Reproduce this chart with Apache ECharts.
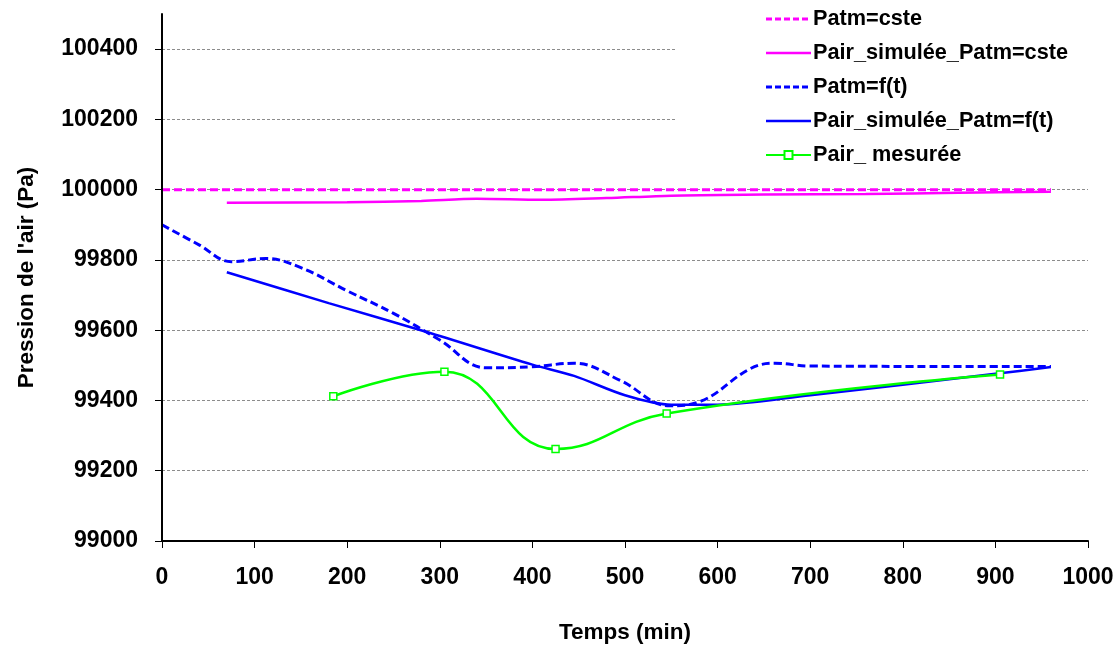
<!DOCTYPE html>
<html>
<head>
<meta charset="utf-8">
<script src="https://cdn.jsdelivr.net/npm/echarts@6/dist/echarts.min.js"></script>
<style>
html,body{margin:0;padding:0;background:#fff;}
#chart{width:1117px;height:646px;}
</style>
</head>
<body>
<div id="chart"></div>
<script>
// ---- data ----
var seriesNames = ['Patm=cste', 'Pair_simulée_Patm=cste', 'Patm=f(t)', 'Pair_simulée_Patm=f(t)', 'Pair_ mesurée'];
var patmCste = [[0, 100000], [960, 100000]];
var pairSimCste = [[70, 99963], [200, 99964], [280, 99968], [340, 99974], [410, 99971], [480, 99976], [550, 99983], [650, 99986], [760, 99988], [860, 99991], [960, 99994]];
var patmFt = [[0, 99900], [40, 99843], [75, 99795], [112, 99804], [150, 99778], [200, 99712], [250, 99648], [300, 99572], [350, 99493], [400, 99496], [445, 99506], [495, 99457], [548, 99385], [582, 99398], [635, 99490], [662, 99506], [700, 99498], [830, 99497], [960, 99497]];
var pairSimFt = [[70, 99765], [180, 99677], [286, 99595], [400, 99502], [445, 99470], [500, 99415], [550, 99388], [600, 99388], [700, 99415], [800, 99445], [900, 99476], [960, 99495]];
var pairMesuree = [[185, 99412], [305, 99482], [425, 99262], [545, 99363], [905, 99474]];
var xTicks = {min: 0, max: 1000, interval: 100};
var yTicks = {min: 99000, max: 100400, interval: 200};
var yAxisTop = 100500;

var FONT = 'Liberation Sans';
var chart = echarts.init(document.getElementById('chart'));

var gridLeft = 162, gridRight = 29, gridBottom = 105, gridTop = 14;
var plotH = 646 - gridTop - gridBottom;
var grid1Top = gridTop + plotH * (yAxisTop - yTicks.max) / (yAxisTop - yTicks.min);

var labelStyle = {fontFamily: FONT, fontWeight: 'bold', fontSize: 23, color: '#000', formatter: function (v) { return String(v); }};

// legend icons (45 x 10 box; tiny corner dots fix the bounding box)
var corners = 'M0,0h0.01v0.01h-0.01z M44.99,9.99h0.01v0.01h-0.01z ';
var dashIcon = 'path://' + corners + 'M0,3.6h6v2.8h-6z M9,3.6h6v2.8h-6z M18,3.6h6v2.8h-6z M27,3.6h6v2.8h-6z M36,3.6h6v2.8h-6z';
var solidIcon = 'path://' + corners + 'M0,3.7h45v2.6h-45z';

chart.setOption({
  animation: false,
  backgroundColor: '#fff',
  grid: [
    {left: gridLeft, right: gridRight, top: gridTop, bottom: gridBottom, outerBoundsMode: 'none', containLabel: false},
    {left: gridLeft, right: gridRight, top: grid1Top, bottom: gridBottom, outerBoundsMode: 'none', containLabel: false}
  ],
  legend: {
    data: [
      {name: seriesNames[0], icon: dashIcon},
      {name: seriesNames[1], icon: solidIcon},
      {name: seriesNames[2], icon: dashIcon},
      {name: seriesNames[3], icon: solidIcon},
      {name: seriesNames[4]}
    ],
    orient: 'vertical',
    left: 675,
    top: 0,
    padding: [8, 30, 12, 90],
    backgroundColor: '#fff',
    itemWidth: 45,
    itemHeight: 10,
    itemGap: 12,
    textStyle: {fontFamily: FONT, fontWeight: 'bold', fontSize: 21.7, color: '#000', padding: [0, 0, 0, -3]}
  },
  xAxis: [
    {
      type: 'value', gridIndex: 0,
      min: xTicks.min, max: xTicks.max, interval: xTicks.interval,
      z: 3,
      name: 'Temps (min)', nameLocation: 'middle', nameGap: 80,
      nameTextStyle: {fontFamily: FONT, fontWeight: 'bold', fontSize: 22.5, color: '#000'},
      axisLine: {show: true, onZero: false, lineStyle: {color: '#000', width: 2}},
      axisTick: {show: true, inside: false, length: 7, lineStyle: {color: '#000', width: 1}},
      axisLabel: Object.assign({margin: 25}, labelStyle),
      splitLine: {show: false}
    },
    {
      type: 'value', gridIndex: 1,
      min: xTicks.min, max: xTicks.max, interval: xTicks.interval,
      show: false
    }
  ],
  yAxis: [
    {
      type: 'value', gridIndex: 0,
      min: yTicks.min, max: yAxisTop,
      z: 3,
      name: "Pression de l'air (Pa)", nameLocation: 'middle', nameGap: 124,
      nameTextStyle: {fontFamily: FONT, fontWeight: 'bold', fontSize: 22.5, color: '#000'},
      axisLine: {show: true, onZero: false, lineStyle: {color: '#000', width: 2}},
      axisTick: {show: false},
      axisLabel: {show: false},
      splitLine: {show: false}
    },
    {
      type: 'value', gridIndex: 1,
      min: yTicks.min, max: yTicks.max, interval: yTicks.interval,
      axisLine: {show: false},
      axisTick: {show: true, inside: false, length: 7, lineStyle: {color: '#000', width: 1}},
      axisLabel: Object.assign({margin: 24}, labelStyle),
      splitLine: {show: true, lineStyle: {color: '#8c8c8c', width: 1, type: [3, 2]}}
    }
  ],
  series: [
    {
      name: seriesNames[0], type: 'line', xAxisIndex: 0, yAxisIndex: 0,
      data: patmCste, symbol: 'none', z: 2,
      lineStyle: {color: '#ff00ff', width: 3, type: [8, 4]},
      itemStyle: {color: '#ff00ff'}
    },
    {
      name: seriesNames[1], type: 'line', xAxisIndex: 0, yAxisIndex: 0,
      data: pairSimCste, symbol: 'none', smooth: 0.3, z: 2,
      lineStyle: {color: '#ff00ff', width: 2.5},
      itemStyle: {color: '#ff00ff'}
    },
    {
      name: seriesNames[2], type: 'line', xAxisIndex: 0, yAxisIndex: 0,
      data: patmFt, symbol: 'none', smooth: 0.4, z: 2,
      lineStyle: {color: '#0000ff', width: 3, type: [8, 4]},
      itemStyle: {color: '#0000ff'}
    },
    {
      name: seriesNames[3], type: 'line', xAxisIndex: 0, yAxisIndex: 0,
      data: pairSimFt, symbol: 'none', smooth: 0.3, z: 2,
      lineStyle: {color: '#0000ff', width: 2.5},
      itemStyle: {color: '#0000ff'}
    },
    {
      name: seriesNames[4], type: 'line', xAxisIndex: 0, yAxisIndex: 0,
      data: pairMesuree, symbol: 'rect', symbolSize: 7, showSymbol: true, smooth: 0.45, z: 3,
      lineStyle: {color: '#00ff00', width: 2.5},
      itemStyle: {color: '#ffffff', borderColor: '#00ff00', borderWidth: 1.5}
    }
  ]
});
</script>
</body>
</html>
